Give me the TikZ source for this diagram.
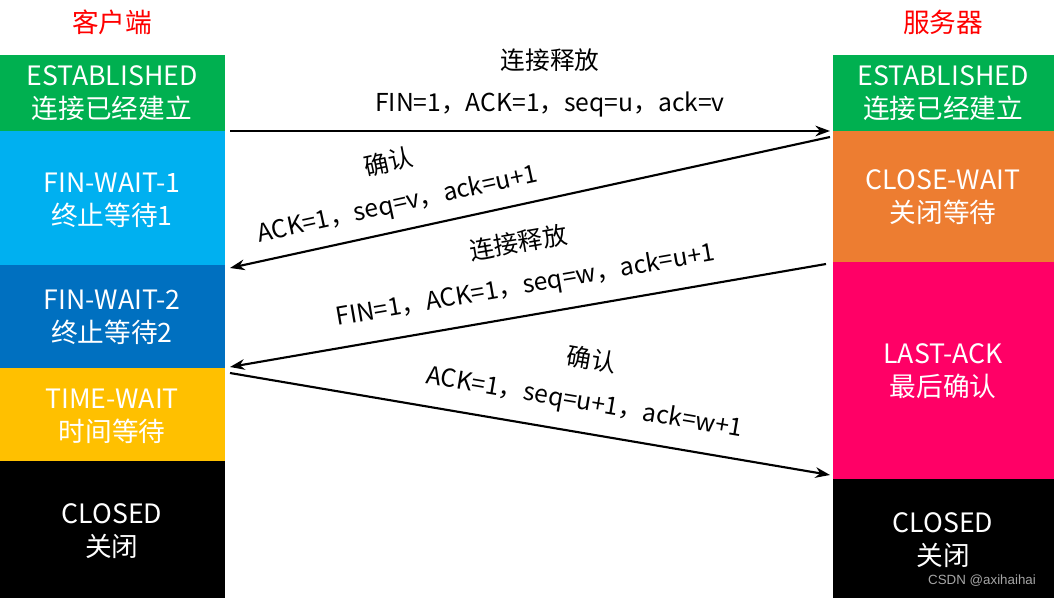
\documentclass[tikz,border=0pt]{standalone}
\usepackage{fontspec}
\setmainfont{Noto Sans CJK SC}
\newfontfamily\marksans{Liberation Sans}
\usetikzlibrary{arrows.meta}

\definecolor{estgreen}{RGB}{0,176,80}
\definecolor{waitblue}{RGB}{0,176,240}
\definecolor{waitdeep}{RGB}{0,112,192}
\definecolor{timeyellow}{RGB}{255,192,0}
\definecolor{closeorange}{RGB}{237,125,49}
\definecolor{lastpink}{RGB}{255,0,102}

\tikzset{
    state/.style={text=white, align=center, font=\fontsize{20}{25}\selectfont},
    head/.style={text=red, font=\fontsize{20}{24}\selectfont},
    msg/.style={align=center, font=\fontsize{18.5}{31.5}\selectfont, inner sep=0pt},
    seg/.style={-{Stealth[length=11pt,width=8pt]}, line width=1.6pt},
}

\begin{document}
\begin{tikzpicture}[x=0.75pt, y=-0.75pt]
    \useasboundingbox (0,0) rectangle (1054,598);
    % headers %
    \node[head] (client) at (112,22) {客户端};
    \node[head] (server) at (943,22) {服务器};
    % client states %
    \fill[estgreen] (0,55) rectangle (225,131);
    \fill[waitblue] (0,131) rectangle (225,265);
    \fill[waitdeep] (0,265) rectangle (225,368);
    \fill[timeyellow] (0,368) rectangle (225,461);
    \fill[black] (0,461) rectangle (225,598);
    \node[state] (cest) at (112,93) {ESTABLISHED\\连接已经建立};
    \node[state] (cfw1) at (112,200) {FIN-WAIT-1\\终止等待1};
    \node[state] (cfw2) at (112,317) {FIN-WAIT-2\\终止等待2};
    \node[state] (ctw) at (112,416) {TIME-WAIT\\时间等待};
    \node[state] (ccl) at (112,531) {CLOSED\\关闭};
    % server states %
    \fill[estgreen] (833,55) rectangle (1054,131);
    \fill[closeorange] (833,131) rectangle (1054,262);
    \fill[lastpink] (833,262) rectangle (1054,479);
    \fill[black] (833,479) rectangle (1054,598);
    \node[state] (sest) at (943,93) {ESTABLISHED\\连接已经建立};
    \node[state] (scw) at (943,197) {CLOSE-WAIT\\关闭等待};
    \node[state] (sla) at (943,371) {LAST-ACK\\最后确认};
    \node[state] (scl) at (943,540) {CLOSED\\关闭};
    \node[text=gray!70, font=\marksans\fontsize{10}{12}\selectfont] (mark) at (982,581) {CSDN @axihaihai};
    % segment ends %
    \coordinate (a1) at (230,131);
    \coordinate (b1) at (830,131);
    \coordinate (b2) at (830,137);
    \coordinate (a2) at (230,268);
    \coordinate (b3) at (826,264);
    \coordinate (a3) at (230,367);
    \coordinate (a4) at (230,373);
    \coordinate (b4) at (830,475);
    % segments %
    \draw[seg] (a1) -- (b1);
    \draw[seg] (b2) -- (a2);
    \draw[seg] (b3) -- (a3);
    \draw[seg] (a4) -- (b4);
    % labels %
    \node[msg] (m1) at (550,83) {连接释放\\FIN=1，ACK=1，seq=u，ack=v};
    \node[msg, rotate=12.3] (m2) at (393,184) {确认\\ACK=1，seq=v，ack=u+1};
    \node[msg, rotate=9.8] (m3) at (522,265) {连接释放\\FIN=1，ACK=1，seq=w，ack=u+1};
    \node[msg, rotate=-9.6] (m4) at (588,382) {确认\\ACK=1，seq=u+1，ack=w+1};
\end{tikzpicture}
\end{document}
